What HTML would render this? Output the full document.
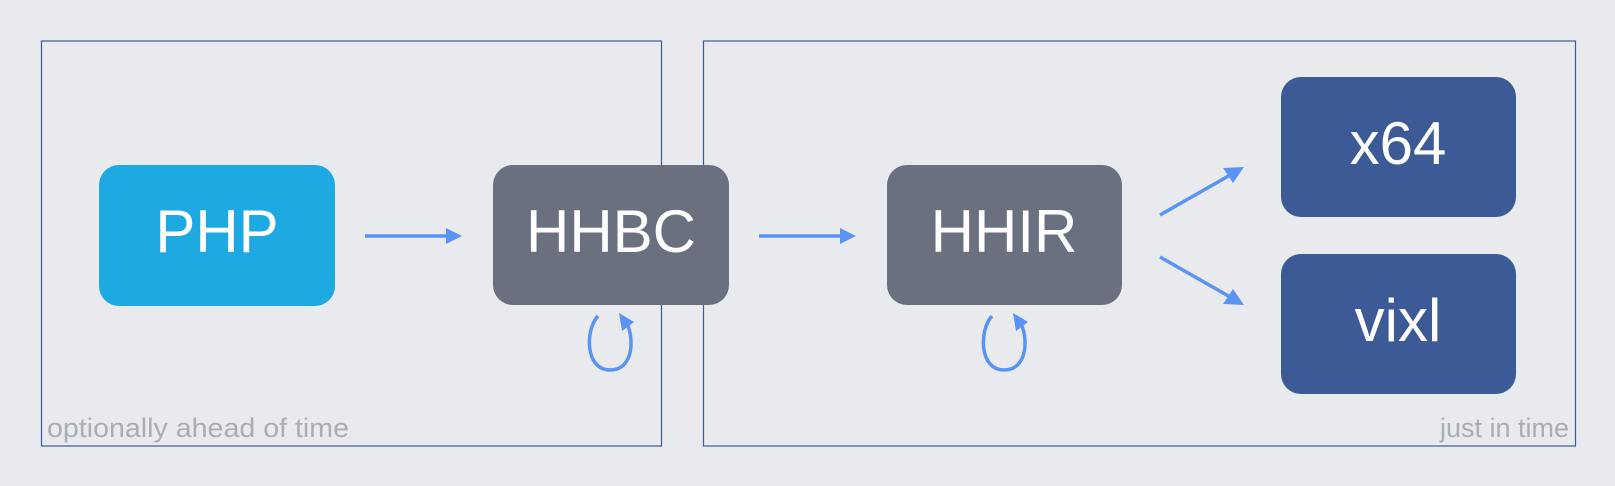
<!DOCTYPE html>
<html><head><meta charset="utf-8"><style>
html,body{margin:0;padding:0;background:#e9eaee;}
svg{display:block;}
</style></head><body>
<svg width="1615" height="486" viewBox="0 0 1615 486" xmlns="http://www.w3.org/2000/svg">
<defs>
<marker id="a" markerWidth="10" markerHeight="10" refX="8" refY="5" orient="auto" markerUnits="userSpaceOnUse" viewBox="0 0 10 10">
</marker>
</defs>
<rect width="1615" height="486" fill="#e9eaee"/>
<rect x="41.5" y="41" width="620" height="405" fill="none" stroke="#3b5b98" stroke-width="1.2"/>
<rect x="703.5" y="41" width="872" height="405" fill="none" stroke="#3b5b98" stroke-width="1.2"/>
<g font-family="Liberation Sans, sans-serif">
<rect x="99" y="165" width="236" height="141" rx="20" fill="#1fa9e2"/>
<text x="217" y="252" fill="#fff" font-size="60" text-anchor="middle">PHP</text>
<rect x="493" y="165" width="236" height="140" rx="20" fill="#6a707d"/>
<text x="611" y="252" fill="#fff" font-size="60" text-anchor="middle">HHBC</text>
<rect x="887" y="165" width="235" height="140" rx="20" fill="#6a707d"/>
<text x="1004" y="252" fill="#fff" font-size="60" text-anchor="middle">HHIR</text>
<rect x="1281" y="77" width="235" height="140" rx="20" fill="#3c5b96"/>
<text x="1398" y="164" fill="#fff" font-size="60" text-anchor="middle">x64</text>
<rect x="1281" y="254" width="235" height="140" rx="20" fill="#3c5b96"/>
<text x="1398" y="341" fill="#fff" font-size="60" text-anchor="middle">vixl</text>
<text x="47" y="437" fill="#a9adb5" font-size="27" textLength="302" lengthAdjust="spacingAndGlyphs">optionally ahead of time</text>
<text x="1569" y="437" fill="#a9adb5" font-size="27" text-anchor="end">just in time</text>
</g>
<g stroke="#5b93f5" stroke-width="3.5" fill="none">
<line x1="365" y1="236" x2="450" y2="236"/>
<line x1="759" y1="236" x2="844" y2="236"/>
<line x1="1160" y1="215" x2="1232" y2="174"/>
<line x1="1160" y1="257" x2="1232" y2="298"/>
<path d="M598,316 C585,330 585,370 610,370 C635,370 634,335 626,322"/>
<path d="M992,316 C979,330 979,370 1004,370 C1029,370 1028,335 1020,322"/>
</g>
<g fill="#5b93f5">
<polygon points="462,236 446,228 446,244"/>
<polygon points="856,236 840,228 840,244"/>
<polygon points="1244,167 1223,168 1233,183"/>
<polygon points="1244,305 1233,289 1223,304"/>
<polygon points="619,313 634,322 622,331"/>
<polygon points="1013,313 1028,322 1016,331"/>
</g>
</svg>
</body></html>
